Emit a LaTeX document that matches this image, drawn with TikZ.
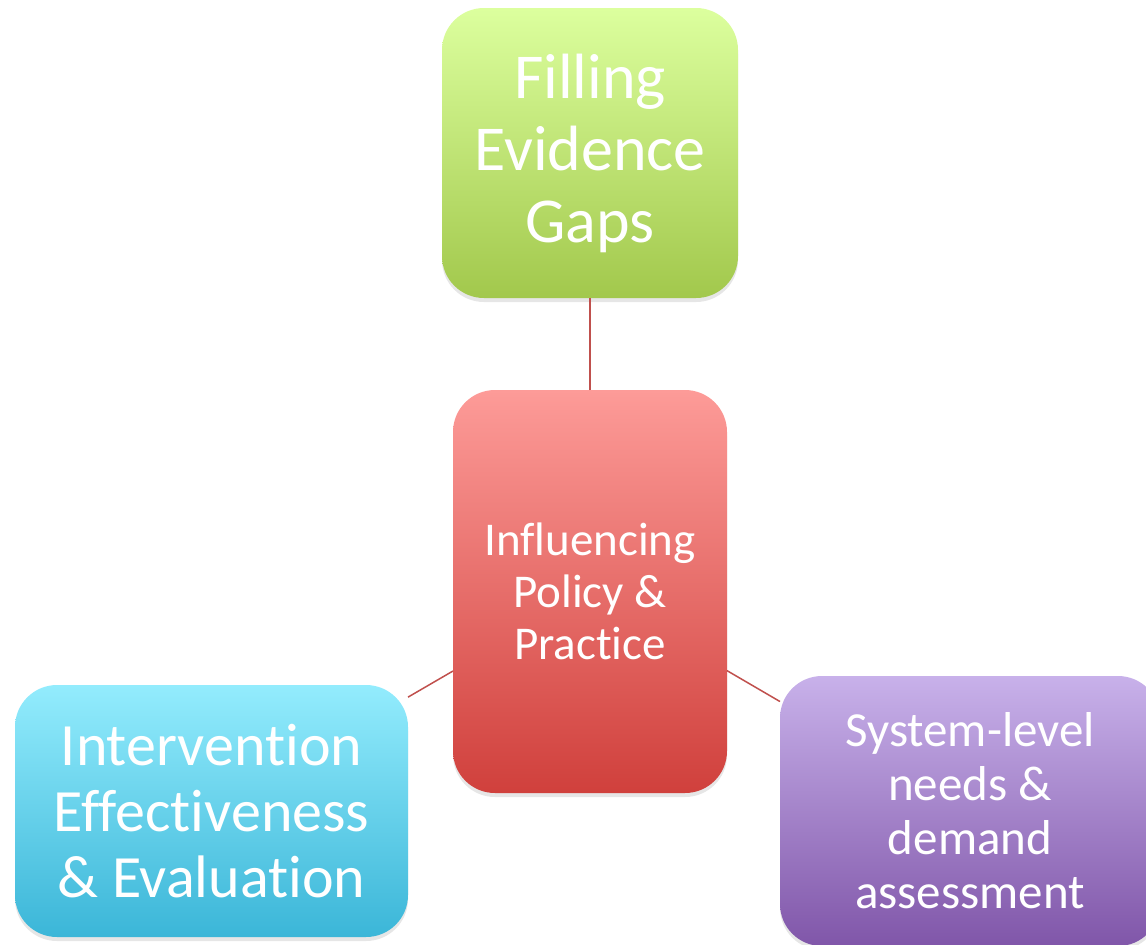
\documentclass[tikz,border=0pt]{standalone}
\usepackage{fontspec}
\setmainfont{Carlito}[Ligatures={NoCommon,NoContextual}]
\usepackage{tikz}
\usetikzlibrary{shadows}
\definecolor{gapstop}{HTML}{DCFF9E}
\definecolor{gapsbot}{HTML}{A2C84C}
\definecolor{policytop}{HTML}{FD9B98}
\definecolor{policybot}{HTML}{D0403C}
\definecolor{evaltop}{HTML}{93ECFD}
\definecolor{evalbot}{HTML}{3BB6D8}
\definecolor{needstop}{HTML}{C8B1EA}
\definecolor{needsbot}{HTML}{8056A9}
\definecolor{linkred}{HTML}{C0504D}

\begin{document}
\begin{tikzpicture}[
		x=1pt, y=-1pt,
		box/.style = {shape=rectangle,
			rounded corners=42pt, align=center,
			text=white, inner sep=0pt, outer sep=0pt,
			drop shadow={opacity=0.2, shadow xshift=0pt, shadow yshift=-4pt}},
		link/.style = {draw=linkred, line width=1.5pt}]
		\useasboundingbox (0,0) rectangle (1146,945);
		\node[box, minimum width=296pt, minimum height=290pt,
			top color=gapstop, bottom color=gapsbot,
			font=\fontsize{64}{72}\selectfont] (gaps) at (590,153) {Filling\\Evidence\\Gaps};
		\node[box, minimum width=274pt, minimum height=403pt,
			top color=policytop, bottom color=policybot,
			font=\fontsize{47}{52}\selectfont] (policy) at (590,591.5) {Influencing\\Policy \&\\Practice};
		\node[box, minimum width=393pt, minimum height=252pt,
			top color=evaltop, bottom color=evalbot,
			font=\fontsize{60}{66}\selectfont] (eval) at (211.5,811) {Intervention\\Effectiveness\\\& Evaluation};
		\node[box, minimum width=380pt, minimum height=270pt,
			top color=needstop, bottom color=needsbot,
			font=\fontsize{49}{54}\selectfont] (needs) at (970,811) {System-level\\needs \&\\demand\\assessment};
		\draw[link] (policy) -- (gaps);
		\draw[link] (policy) -- (eval);
		\draw[link] (policy) -- (needs);
\end{tikzpicture}
\end{document}
